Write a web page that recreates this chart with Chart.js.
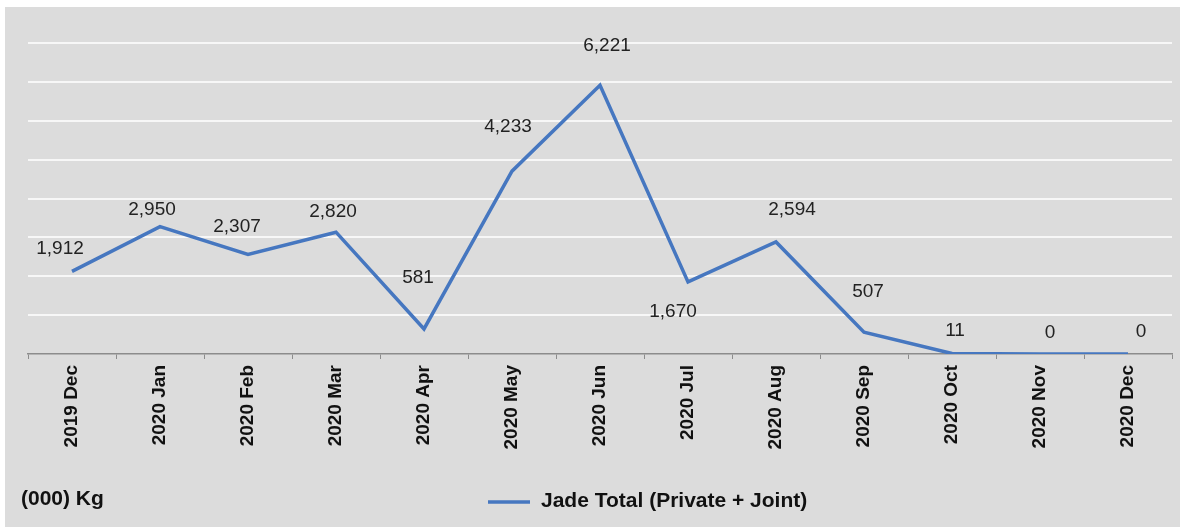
<!DOCTYPE html>
<html>
<head>
<meta charset="utf-8">
<script src="https://cdn.jsdelivr.net/npm/chart.js@4/dist/chart.umd.min.js"></script>
<style>
  html, body { margin: 0; padding: 0; background: #fff; }
  #wrap { width: 1182px; height: 527px; }
</style>
</head>
<body>
<div id="wrap"><canvas id="jadeChart" width="1182" height="527"></canvas></div>
<script>
var months = ['2019 Dec', '2020 Jan', '2020 Feb', '2020 Mar', '2020 Apr', '2020 May', '2020 Jun',
              '2020 Jul', '2020 Aug', '2020 Sep', '2020 Oct', '2020 Nov', '2020 Dec'];
var jadeTotal = [1912, 2950, 2307, 2820, 581, 4233, 6221, 1670, 2594, 507, 11, 0, 0];
var seriesName = 'Jade Total (Private + Joint)';
var unitLabel = '(000) Kg';

// label nudges (px) relative to each point, as placed in the original
var labelNudge = [[-12, -23], [-8, -17], [-11, -28], [-3, -20], [-6, -51], [-4, -44], [7, -40],
                  [-15, 30], [16, -32], [4, -40], [3, -23], [10, -21], [13, -22]];

var lineColor = '#4677c0';
var fontFam = '"Liberation Sans", Arial, sans-serif';

var backdrop = {
    id: 'backdrop',
    beforeDraw: function(chart) {
        var ctx = chart.ctx;
        ctx.save();
        ctx.fillStyle = '#dcdcdc';
        ctx.fillRect(5, 7, chart.width - 7, chart.height - 7);
        ctx.restore();
    }
};

var valueLabels = {
    id: 'valueLabels',
    afterDatasetsDraw: function(chart) {
        var ctx = chart.ctx;
        var meta = chart.getDatasetMeta(0);
        ctx.save();
        ctx.font = '19px ' + fontFam;
        ctx.fillStyle = '#222';
        ctx.textAlign = 'center';
        ctx.textBaseline = 'middle';
        meta.data.forEach(function(pt, i) {
            var v = chart.data.datasets[0].data[i];
            var n = labelNudge[i] || [0, -20];
            ctx.fillText(v.toLocaleString('en-US'), pt.x + n[0], pt.y + n[1]);
        });
        ctx.restore();
    }
};

var footer = {
    id: 'footer',
    afterDraw: function(chart) {
        var ctx = chart.ctx;
        ctx.save();
        ctx.fillStyle = '#111';
        ctx.font = 'bold 21px ' + fontFam;
        ctx.textBaseline = 'middle';
        ctx.textAlign = 'left';
        ctx.fillText(unitLabel, 21, 499);
        // legend
        ctx.strokeStyle = lineColor;
        ctx.lineWidth = 3.5;
        ctx.beginPath();
        ctx.moveTo(488, 502);
        ctx.lineTo(530, 502);
        ctx.stroke();
        ctx.fillText(seriesName, 541, 501);
        ctx.restore();
    }
};

document.addEventListener('DOMContentLoaded', function() {
    var canvas = document.getElementById('jadeChart');
    var ctx = canvas.getContext('2d');
    new Chart(ctx, {
        type: 'line',
        data: {
            labels: months,
            datasets: [{
                label: seriesName,
                data: jadeTotal,
                borderColor: lineColor,
                backgroundColor: lineColor,
                borderWidth: 3.5,
                pointRadius: 0,
                tension: 0,
                fill: false
            }]
        },
        options: {
            responsive: false,
            animation: false,
            layout: { padding: { left: 0, right: 10, top: 43, bottom: 0 } },
            plugins: {
                legend: { display: false },
                tooltip: { enabled: false }
            },
            scales: {
                x: {
                    offset: true,
                    afterFit: function(scale) { scale.height = 173; },
                    border: { display: true, color: '#8c8c8c', width: 1.5 },
                    grid: {
                        offset: true,
                        drawOnChartArea: false,
                        drawTicks: true,
                        tickLength: 5,
                        color: '#8c8c8c'
                    },
                    ticks: {
                        minRotation: 90,
                        maxRotation: 90,
                        autoSkip: false,
                        padding: 6,
                        color: '#111',
                        font: { family: fontFam, size: 19, weight: 'bold' }
                    }
                },
                y: {
                    min: 0,
                    max: 7200,
                    afterFit: function(scale) { scale.width = 28; },
                    border: { display: false },
                    grid: {
                        drawTicks: false,
                        lineWidth: 2,
                        color: function(c) { return c.tick && c.tick.value === 0 ? 'rgba(0,0,0,0)' : '#f7f7f7'; }
                    },
                    ticks: { display: false, stepSize: 900 }
                }
            }
        },
        plugins: [backdrop, valueLabels, footer]
    });
});
</script>
</body>
</html>
